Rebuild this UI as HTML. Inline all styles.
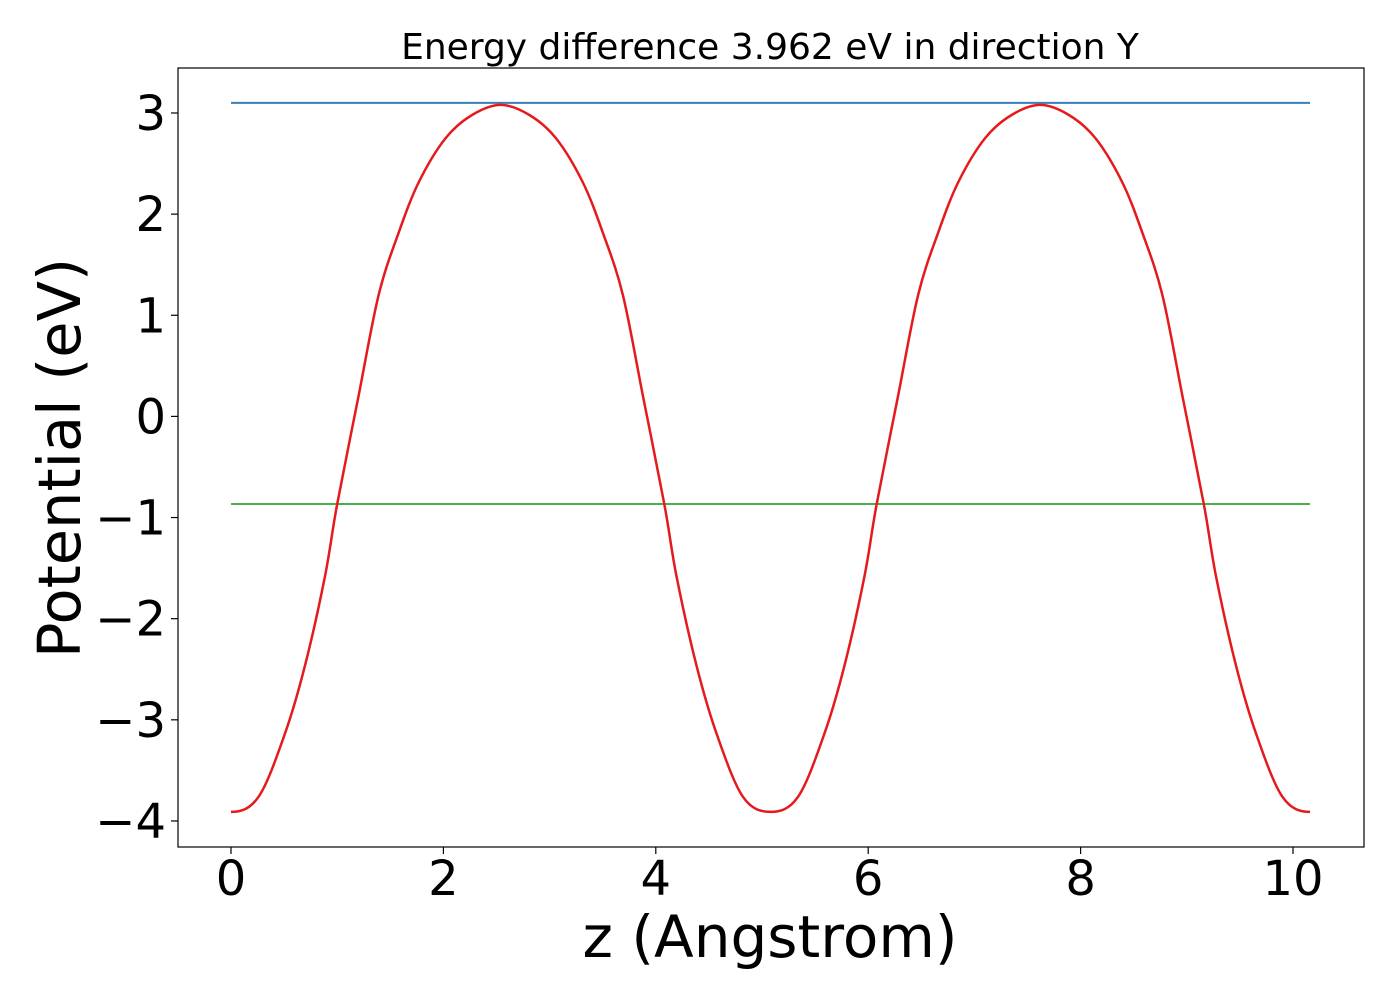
<!DOCTYPE html>
<html><head><meta charset="utf-8"><style>
html,body{margin:0;padding:0;background:#fff;}
svg text{font-family:"DejaVu Sans","Liberation Sans",sans-serif;fill:#000;}
</style></head><body>
<svg id="chart" width="1400" height="1000" xmlns="http://www.w3.org/2000/svg">
<rect x="0" y="0" width="1400" height="1000" fill="#fff"/>
<text x="770" y="59" font-size="36" text-anchor="middle">Energy difference 3.962 eV in direction Y</text>
<g id="plot"></g>
<rect x="178" y="68" width="1186" height="779" fill="none" stroke="#000" stroke-width="1.2"/>
<text x="770" y="957" font-size="58" text-anchor="middle">z (Angstrom)</text>
<text transform="translate(80,458) rotate(-90)" font-size="59" text-anchor="middle">Potential (eV)</text>
</svg>
<script>
const zValues = [0,0.26,0.51,0.70,0.885,1.0,1.2,1.39,1.58,1.77,2.02,2.27,2.54,2.81,3.06,3.31,3.50,3.69,3.88,4.08,4.195,4.38,4.57,4.82,5.08,5.34,5.59,5.78,5.965,6.08,6.28,6.47,6.66,6.85,7.10,7.35,7.62,7.89,8.14,8.39,8.58,8.77,8.96,9.16,9.275,9.46,9.65,9.90,10.16];
const potential = [-3.91,-3.76,-3.13,-2.45,-1.58,-0.866,0.196,1.20,1.82,2.32,2.75,2.98,3.08,2.98,2.75,2.32,1.82,1.20,0.196,-0.866,-1.58,-2.45,-3.13,-3.76,-3.91,-3.76,-3.13,-2.45,-1.58,-0.866,0.196,1.20,1.82,2.32,2.75,2.98,3.08,2.98,2.75,2.32,1.82,1.20,0.196,-0.866,-1.58,-2.45,-3.13,-3.76,-3.91];
const maxLevel = [3.1];
const avgLevel = [-0.866];
const xTicks = [0,2,4,6,8,10];
const xTickLabels = ["0","2","4","6","8","10"];
const yTicks = [3,2,1,0,-1,-2,-3,-4];
const yTickLabels = ["3","2","1","0","\u22121","\u22122","\u22123","\u22124"];

const NS = "http://www.w3.org/2000/svg";
const sx = v => 231 + v * 106.2;
const sy = v => 416.4 - v * 101.14;
const g = document.getElementById('plot');
const svg = document.getElementById('chart');
function mk(tag, attrs, parent){const e=document.createElementNS(NS,tag);for(const k in attrs)e.setAttribute(k,attrs[k]);(parent||g).appendChild(e);return e;}

const xMin = zValues[0], xMax = zValues[zValues.length-1];
const bl = mk('line',{x1:sx(xMin),x2:sx(xMax),y1:sy(maxLevel[0]),y2:sy(maxLevel[0]),stroke:'#377eb8','stroke-width':2});


const gl = mk('line',{x1:sx(xMin),x2:sx(xMax),y1:sy(avgLevel[0]),y2:sy(avgLevel[0]),stroke:'#4daf4a','stroke-width':2});



const pts = zValues.map((z,i)=>[sx(z), sy(potential[i])]);
const n = pts.length;
function getP(i){
  if(i<0){return [2*pts[0][0]-pts[1][0], pts[1][1]];}
  if(i>=n){return [2*pts[n-1][0]-pts[n-2][0], pts[n-2][1]];}
  return pts[i];
}
let d = 'M'+pts[0][0]+','+pts[0][1];
for(let i=0;i<n-1;i++){
  const p0=getP(i-1),p1=pts[i],p2=pts[i+1],p3=getP(i+2);
  const c1x=p1[0]+(p2[0]-p0[0])/6,c1y=p1[1]+(p2[1]-p0[1])/6;
  const c2x=p2[0]-(p3[0]-p1[0])/6,c2y=p2[1]-(p3[1]-p1[1])/6;
  d+=' C'+c1x+','+c1y+' '+c2x+','+c2y+' '+p2[0]+','+p2[1];
}
const rl = mk('path',{d:d,fill:'none',stroke:'#e41a1c','stroke-width':2.5});



xTicks.forEach((t,i)=>{
  const tk = mk('line',{x1:sx(t),x2:sx(t),y1:847,y2:854,stroke:'#000','stroke-width':1.2},svg);
  
  
  const tx = mk('text',{x:sx(t),y:895,'font-size':48,'text-anchor':'middle'},svg);
  tx.textContent = xTickLabels[i];
  
  
});
yTicks.forEach((t,i)=>{
  const tk = mk('line',{x1:171,x2:178,y1:sy(t),y2:sy(t),stroke:'#000','stroke-width':1.2},svg);
  
  
  const tx = mk('text',{x:166,y:sy(t)+17,'font-size':48,'text-anchor':'end'},svg);
  tx.textContent = yTickLabels[i];
  
  
});
</script>
</body></html>
